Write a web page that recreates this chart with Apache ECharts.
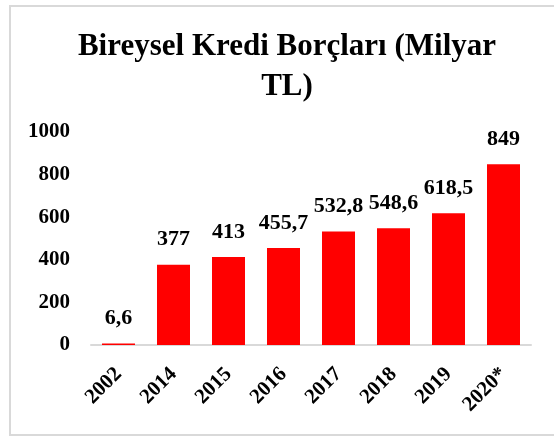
<!DOCTYPE html>
<html><head><meta charset="utf-8">
<script src="https://cdn.jsdelivr.net/npm/echarts@6/dist/echarts.min.js"></script>
<style>html,body{margin:0;padding:0;background:#fff}#c{width:554px;height:437px}</style>
</head><body><div id="c"></div>
<script>
const categories = ['2002','2014','2015','2016','2017','2018','2019','2020*'];
const values = [6.6, 377, 413, 455.7, 532.8, 548.6, 618.5, 849];
const valueLabels = ['6,6','377','413','455,7','532,8','548,6','618,5','849'];
const FONT = '"Liberation Serif", "DejaVu Serif", serif';
const chart = echarts.init(document.getElementById('c'));
chart.setOption({
  animation: false,
  backgroundColor: '#fff',
  title: {
    text: 'Bireysel Kredi Borçları (Milyar\nTL)',
    left: 282, top: 22, textAlign: 'center',
    textStyle: { fontFamily: FONT, fontWeight: 'bold', fontSize: 31, color: '#000', lineHeight: 40 }
  },
  graphic: [{
    type: 'rect', shape: { x: 10, y: 6, width: 560, height: 429 },
    style: { fill: 'none', stroke: '#d9d9d9', lineWidth: 2 }, silent: true
  }],
  grid: { left: 91, right: 23, top: 132, bottom: 92, containLabel: false },
  xAxis: {
    type: 'category', data: categories,
    axisLine: { lineStyle: { color: '#d9d9d9', width: 2 } },
    axisTick: { show: false },
    axisLabel: { rotate: 45, margin: 26, fontFamily: FONT, fontWeight: 'bold', fontSize: 21, color: '#000' }
  },
  yAxis: {
    type: 'value', min: 0, max: 1000, interval: 200,
    splitLine: { show: false },
    axisLine: { show: false }, axisTick: { show: false },
    axisLabel: { margin: 21, formatter: v => String(v), fontFamily: FONT, fontWeight: 'bold', fontSize: 21, color: '#000' }
  },
  series: [{
    type: 'bar', data: values, barCategoryGap: '40%',
    itemStyle: { color: '#ff0000' },
    label: {
      show: true, position: 'top', distance: 14,
      formatter: p => valueLabels[p.dataIndex],
      fontFamily: FONT, fontWeight: 'bold', fontSize: 22, color: '#000'
    }
  }]
});
</script></body></html>
